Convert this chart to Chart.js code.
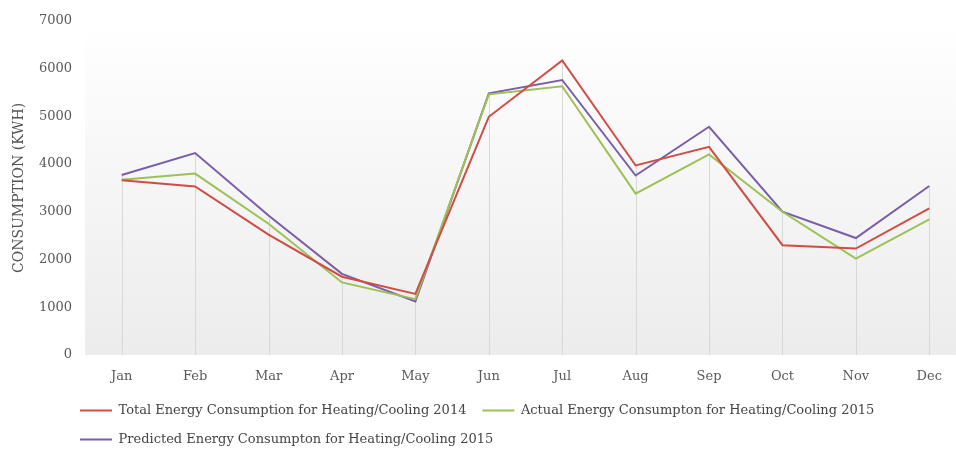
<!DOCTYPE html>
<html>
<head>
<meta charset="utf-8">
<script src="https://cdn.jsdelivr.net/npm/chart.js@4"></script>
<style>
  html, body { margin: 0; padding: 0; background: #fff; overflow: hidden; }
  #wrap { width: 966px; height: 453px; }
</style>
</head>
<body>
<div id="wrap"><canvas id="energy-chart"></canvas></div>
<script>
const months = ["Jan", "Feb", "Mar", "Apr", "May", "Jun", "Jul", "Aug", "Sep", "Oct", "Nov", "Dec"];
const total2014 = [3660, 3530, 2520, 1640, 1280, 4990, 6170, 3970, 4360, 2300, 2230, 3070];
const actual2015 = [3670, 3800, 2750, 1520, 1170, 5460, 5630, 3380, 4200, 3000, 2020, 2840];
const predicted2015 = [3770, 4230, 2920, 1700, 1120, 5480, 5760, 3760, 4780, 3000, 2450, 3540];
const yTicks = [0, 1000, 2000, 3000, 4000, 5000, 6000, 7000];

const serif = "'DejaVu Serif', 'Liberation Serif', serif";

// fond dégradé de la zone du graphique
const plotBackground = {
  id: "plotBackground",
  beforeDraw(chart) {
    const { ctx, chartArea: a } = chart;
    const g = ctx.createLinearGradient(0, a.top, 0, a.bottom);
    g.addColorStop(0, "#ffffff");
    g.addColorStop(1, "#ececec");
    ctx.save();
    ctx.fillStyle = g;
    ctx.fillRect(a.left, a.top, a.right - a.left, a.bottom - a.top);
    ctx.restore();
  }
};

// lignes verticales depuis la valeur max jusqu'à l'axe
const dropLines = {
  id: "dropLines",
  beforeDatasetsDraw(chart) {
    const { ctx, chartArea: a, scales } = chart;
    ctx.save();
    ctx.strokeStyle = "#d8d8d8";
    ctx.lineWidth = 1;
    months.forEach((m, i) => {
      const top = Math.max(...chart.data.datasets.map((d) => d.data[i]));
      const x = Math.round(scales.x.getPixelForValue(i)) + 0.5;
      ctx.beginPath();
      ctx.moveTo(x, scales.y.getPixelForValue(top));
      ctx.lineTo(x, a.bottom);
      ctx.stroke();
    });
    ctx.restore();
  }
};

// place la légende à gauche sous l'axe
const legendShift = {
  id: "legendShift",
  afterLayout(chart) {
    chart.legend.left = 64;
    chart.legend.top = 388;
  }
};

new Chart("energy-chart", {
  type: "line",
  data: {
    labels: months,
    datasets: [
      {
        label: "Total Energy Consumption for Heating/Cooling 2014",
        data: total2014,
        borderColor: "#cf4c47",
        backgroundColor: "#cf4c47",
        borderWidth: 2
      },
      {
        label: "Actual Energy Consumpton for Heating/Cooling 2015",
        data: actual2015,
        borderColor: "#9cc155",
        backgroundColor: "#9cc155",
        borderWidth: 2
      },
      {
        label: "Predicted Energy Consumpton for Heating/Cooling 2015",
        data: predicted2015,
        borderColor: "#7a5ea8",
        backgroundColor: "#7a5ea8",
        borderWidth: 2
      }
    ]
  },
  options: {
    responsive: true,
    maintainAspectRatio: false,
    animation: false,
    layout: { padding: { top: 17, left: 0, right: 0, bottom: 0 } },
    elements: {
      line: { tension: 0 },
      point: { radius: 0, hoverRadius: 0 }
    },
    plugins: {
      tooltip: { enabled: false },
      legend: {
        display: true,
        position: "bottom",
        align: "start",
        labels: {
          usePointStyle: true,
          pointStyle: "line",
          pointStyleWidth: 32,
          padding: 16,
          color: "#444",
          font: { family: serif, size: 13 }
        }
      }
    },
    scales: {
      x: {
        offset: true,
        grid: { display: false, drawTicks: false },
        border: { display: false },
        ticks: { color: "#5a5a5a", padding: 14, font: { family: serif, size: 13 } },
        afterFit: (scale) => { scale.height = 30; }
      },
      y: {
        min: 0,
        max: 7000,
        grid: { display: false, drawTicks: false },
        border: { display: false },
        afterBuildTicks: (scale) => { scale.ticks = yTicks.map((v) => ({ value: v })); },
        ticks: {
          color: "#5a5a5a",
          padding: 13,
          font: { family: serif, size: 13 },
          callback: (v) => String(v)
        },
        title: {
          display: true,
          text: "CONSUMPTION (KWH)",
          color: "#555",
          padding: { top: 11, bottom: 0 },
          font: { family: serif, size: 14 }
        },
        afterFit: (scale) => { scale.width = 85; }
      }
    }
  },
  plugins: [plotBackground, dropLines, legendShift]
});
</script>
</body>
</html>
